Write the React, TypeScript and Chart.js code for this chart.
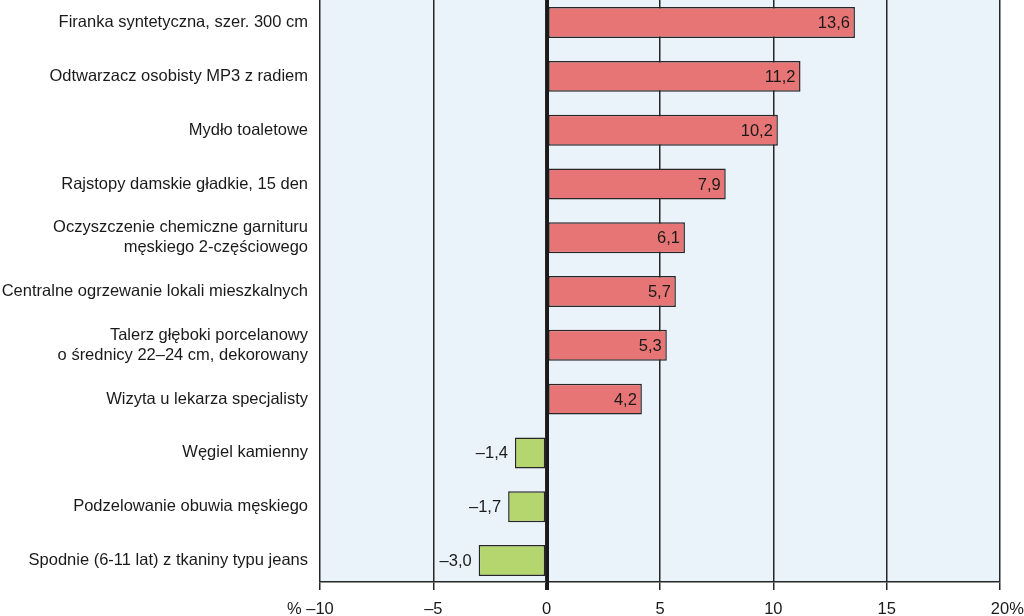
import { useEffect, useRef } from 'react';
import { Chart, registerables } from 'chart.js';

Chart.register(...registerables);

const categories: (string | string[])[] = [
  'Firanka syntetyczna, szer. 300 cm',
  'Odtwarzacz osobisty MP3 z radiem',
  'Mydło toaletowe',
  'Rajstopy damskie gładkie, 15 den',
  ['Oczyszczenie chemiczne garnituru', 'męskiego 2-częściowego'],
  'Centralne ogrzewanie lokali mieszkalnych',
  ['Talerz głęboki porcelanowy', 'o średnicy 22–24 cm, dekorowany'],
  'Wizyta u lekarza specjalisty',
  'Węgiel kamienny',
  'Podzelowanie obuwia męskiego',
  'Spodnie (6-11 lat) z tkaniny typu jeans',
];

const values = [13.6, 11.2, 10.2, 7.9, 6.1, 5.7, 5.3, 4.2, -1.4, -1.7, -3.0];

const xTicks = [-10, -5, 0, 5, 10, 15, 20];

const FONT = '"Liberation Sans", Arial, sans-serif';
const FS = 16.5;
const RED = '#E87575';
const GREEN = '#B5D56F';
const DARK = '#262626';
const BG = '#EAF2FA';

const fmtNum = (v: number, digits: number) => {
  const s = Math.abs(v).toFixed(digits).replace('.', ',');
  return v < 0 ? '–' + s : s;
};

const bgPlugin = {
  id: 'bgPlugin',
  beforeDraw(chart: any) {
    const { ctx, chartArea } = chart;
    ctx.save();
    ctx.fillStyle = BG;
    ctx.fillRect(chartArea.left, 0, chartArea.right - chartArea.left, chartArea.bottom);
    ctx.restore();
  },
};

const valueLabels = {
  id: 'valueLabels',
  afterDatasetsDraw(chart: any) {
    const { ctx, chartArea } = chart;
    const xs = chart.scales.x;
    // zero line in front of the bars
    const x0 = Math.round(xs.getPixelForValue(0)) + 0.5;
    ctx.save();
    ctx.strokeStyle = '#1a1a1a';
    ctx.lineWidth = 3;
    ctx.beginPath();
    ctx.moveTo(x0, chartArea.top);
    ctx.lineTo(x0, chartArea.bottom + 8);
    ctx.stroke();

    const meta = chart.getDatasetMeta(0);
    ctx.font = `${FS}px ${FONT}`;
    ctx.fillStyle = '#1a1a1a';
    ctx.textBaseline = 'middle';
    ctx.textAlign = 'right';
    meta.data.forEach((bar: any, i: number) => {
      const v = values[i];
      const x = v >= 0 ? bar.x - 5 : bar.x - 7;
      ctx.fillText(fmtNum(v, 1), x, bar.y + 1);
    });
    ctx.restore();
  },
};

const percentPlugin = {
  id: 'percentPlugin',
  afterDraw(chart: any) {
    const scale = chart.scales.x;
    const items = scale.getLabelItems(chart.chartArea);
    if (!items || !items.length) return;
    const { ctx } = chart;
    ctx.save();
    const first = items[0];
    const last = items[items.length - 1];
    ctx.font = first.font.string;
    ctx.fillStyle = '#1a1a1a';
    ctx.textBaseline = first.options.textBaseline;
    const lblF = Array.isArray(first.label) ? first.label[0] : first.label;
    const lblL = Array.isArray(last.label) ? last.label[0] : last.label;
    const wF = ctx.measureText(lblF).width;
    const wL = ctx.measureText(lblL).width;
    const yF = first.options.translation[1] + (first.textOffset || 0);
    const yL = last.options.translation[1] + (last.textOffset || 0);
    ctx.textAlign = 'right';
    ctx.fillText('% ', first.options.translation[0] - wF / 2, yF);
    ctx.textAlign = 'left';
    ctx.fillText('%', last.options.translation[0] + wL / 2, yL);
    ctx.restore();
  },
};

export default function App() {
  const ref = useRef<HTMLCanvasElement>(null);

  useEffect(() => {
    const canvas = ref.current;
    if (!canvas) return;
    const chart = new Chart(canvas, {
      type: 'bar',
      data: {
        datasets: [
          {
            data: values.map((v, i) => ({ x: v, y: i })) as any,
            backgroundColor: values.map((v) => (v >= 0 ? RED : GREEN)),
            borderColor: DARK,
            borderWidth: 1.5,
            borderSkipped: false,
            categoryPercentage: 0.8,
            barPercentage: 0.72,
          },
        ],
      },
      options: {
        indexAxis: 'y',
        responsive: false,
        animation: false,
        layout: { padding: { top: 0, right: 24, left: 0, bottom: 0 } },
        plugins: {
          legend: { display: false },
          tooltip: { enabled: false },
        },
        scales: {
          x: {
            type: 'linear',
            position: 'bottom',
            min: -10,
            max: 20,
            afterBuildTicks: (scale: any) => {
              scale.ticks = xTicks.map((v) => ({ value: v }));
            },
            afterFit: (scale: any) => {
              scale.height = 34;
              scale.paddingLeft = 0;
              scale.paddingRight = 0;
            },
            grid: {
              color: DARK,
              tickColor: DARK,
              lineWidth: (c: any) => (c.tick && c.tick.value === 0 ? 3 : 1.5),
              tickWidth: (c: any) => (c.tick && c.tick.value === 0 ? 3 : 1.5),
              drawTicks: true,
              tickLength: 8,
            },
            border: { display: true, color: DARK, width: 1.5 },
            ticks: {
              padding: 10,
              color: '#1a1a1a',
              font: { family: FONT, size: FS },
              maxRotation: 0,
              autoSkip: false,
              callback: (v: any) => fmtNum(Number(v), 0),
            },
          },
          y: {
            type: 'linear',
            reverse: true,
            offset: false,
            min: -0.42,
            max: 10.4,
            afterFit: (scale: any) => {
              scale.width = 320;
              scale.paddingTop = 0;
              scale.paddingBottom = 0;
            },
            grid: { display: false, drawTicks: false, offset: false },
            border: { display: false },
            ticks: {
              stepSize: 1,
              includeBounds: false,
              autoSkip: false,
              maxTicksLimit: 50,
              padding: 12,
              color: '#1a1a1a',
              font: { family: FONT, size: FS, lineHeight: 1.2 },
              callback: (v: any) => {
                const n = Number(v);
                return Number.isInteger(n) && categories[n] !== undefined ? (categories[n] as any) : '';
              },
            },
          },
        },
      },
      plugins: [bgPlugin, valueLabels, percentPlugin],
    } as any);
    return () => chart.destroy();
  }, []);

  return (
    <div
      style={{
        position: 'fixed',
        left: 0,
        top: 0,
        width: 1024,
        height: 616,
        background: '#ffffff',
        overflow: 'hidden',
      }}
    >
      <canvas ref={ref} width={1024} height={616} style={{ display: 'block' }} />
    </div>
  );
}
